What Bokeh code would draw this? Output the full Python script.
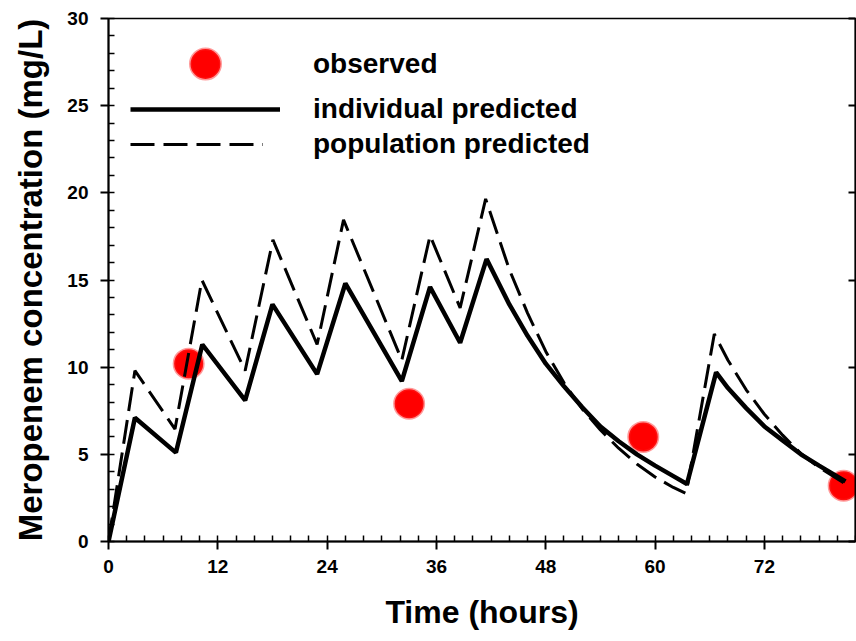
from bokeh.plotting import figure
from bokeh.models import Range1d, FixedTicker, LinearAxis, Legend, LegendItem
from bokeh.core.properties import value
from bokeh.embed import file_html
from bokeh.resources import INLINE

# ---- data ----
obs_time = [8.8, 33.0, 58.7, 80.7]
obs_conc = [10.2, 7.9, 6.0, 3.2]

ind_time = [0, 2.9, 7.4, 10.3, 15.0, 18.0, 22.9, 26.0, 32.2, 35.3, 38.6, 41.5,
            44, 46, 48, 50, 52, 54, 56, 58, 60, 62, 63.5,
            66.7, 68, 70, 72, 74, 76, 78, 80.9]
ind_conc = [0, 7.1, 5.1, 11.3, 8.1, 13.6, 9.6, 14.8, 9.2, 14.6, 11.4, 16.2,
            13.6, 11.8, 10.2, 8.9, 7.7, 6.6, 5.75, 5.0, 4.35, 3.75, 3.3,
            9.7, 8.8, 7.65, 6.6, 5.8, 5.0, 4.35, 3.45]

pop_time = [0, 2.9, 7.3, 10.25, 15.0, 18.05, 22.9, 25.8, 32.2, 35.3, 38.6, 41.4,
            44, 46, 48, 50, 52, 54, 56, 58, 60, 62, 63.4,
            66.5, 68, 70, 72, 74, 76, 78, 80.9]
pop_conc = [0, 9.8, 6.45, 15.0, 9.8, 17.3, 11.3, 18.45, 10.4, 17.55, 13.4, 19.65,
            15.6, 13.1, 10.9, 9.1, 7.6, 6.4, 5.35, 4.45, 3.7, 3.1, 2.75,
            11.9, 10.4, 8.7, 7.3, 6.1, 5.05, 4.25, 3.3]

x_ticks = [0, 12, 24, 36, 48, 60, 72]
y_ticks = [0, 5, 10, 15, 20, 25, 30]
x_minor = list(range(0, 83, 2))
y_minor = list(range(0, 31, 1))

labels = ["observed", "individual predicted", "population predicted"]
x_title = "Time (hours)"
y_title = "Meropenem concentration (mg/L)"

FONT = "Liberation Sans"

p = figure(width=856, height=641, x_range=Range1d(0, 82), y_range=Range1d(0, 30),
           output_backend="svg", toolbar_location=None,
           min_border_left=108, min_border_right=1, min_border_top=18, min_border_bottom=100)
p.xgrid.visible = False
p.ygrid.visible = False
p.outline_line_color = "black"
p.outline_line_width = 1.5
p.background_fill_color = "white"
p.border_fill_color = "white"

def style_axis(ax, ticks, minor, title, standoff, title_standoff, title_size):
    ax.ticker = FixedTicker(ticks=ticks, minor_ticks=minor)
    ax.axis_line_width = 2
    ax.axis_line_color = "black"
    ax.major_tick_line_width = 2
    ax.major_tick_in = 0
    ax.major_tick_out = 8
    ax.minor_tick_line_width = 1.5
    ax.minor_tick_in = 6
    ax.minor_tick_out = 0
    ax.major_label_text_font = FONT
    ax.major_label_text_font_size = "19px"
    ax.major_label_text_font_style = "bold"
    ax.major_label_text_color = "black"
    ax.major_label_standoff = standoff
    ax.axis_label = title
    ax.axis_label_text_font = FONT
    ax.axis_label_text_font_size = title_size
    ax.axis_label_text_font_style = "bold"
    ax.axis_label_text_color = "black"
    ax.axis_label_standoff = title_standoff

style_axis(p.xaxis[0], x_ticks, x_minor, x_title, 10, 18, "32px")
style_axis(p.yaxis[0], y_ticks, y_minor, y_title, 12, 15, "33px")

# right frame edge: inward major ticks only, no labels
right = LinearAxis(ticker=FixedTicker(ticks=y_ticks, minor_ticks=[]),
                   major_tick_in=7, major_tick_out=0,
                   minor_tick_in=0, minor_tick_out=0, axis_line_width=2,
                   major_tick_line_width=2, major_label_standoff=0,
                   major_label_overrides={t: "" for t in y_ticks})
p.add_layout(right, "right")

r_obs = p.scatter(obs_time, obs_conc, size=29, fill_color="#ff0000",
                  line_color="#ff2020", line_width=3, line_alpha=0.45)
r_pop = p.line(pop_time, pop_conc, line_color="black", line_width=3, line_dash="24 9")
r_ind = p.line(ind_time, ind_conc, line_color="black", line_width=4.5)

def make_legend(label, rend, loc, gw, gh, standoff):
    return Legend(items=[LegendItem(label=value(label), renderers=[rend])],
                  location=loc, glyph_width=gw, glyph_height=gh, label_height=gh,
                  label_standoff=standoff, padding=0, margin=0, spacing=0,
                  background_fill_alpha=0, border_line_color=None,
                  label_text_font=FONT, label_text_font_size="28px",
                  label_text_font_style="bold", label_text_color="black",
                  label_text_baseline="middle")

p.add_layout(make_legend(labels[0], r_obs, (22, 440), 150, 75, 33))
p.add_layout(make_legend(labels[1], r_ind, (22, 414), 150, 36, 33))
p.add_layout(make_legend(labels[2], r_pop, (22, 379), 133, 36, 50))

open("out.html", "w").write(file_html(p, INLINE))
